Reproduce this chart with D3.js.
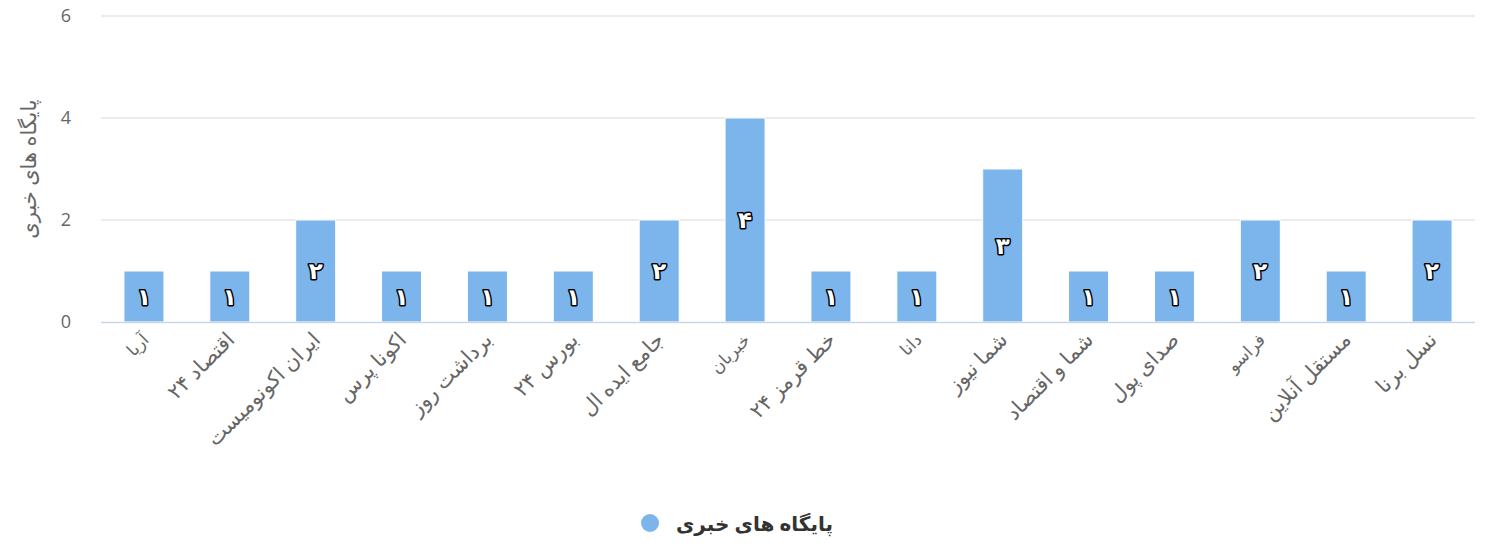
<!DOCTYPE html>
<html><head><meta charset="utf-8">
<script src="https://cdn.jsdelivr.net/npm/d3@7"></script>
<style>
body{margin:0;background:#fff;}
text{font-family:"Open Sans","DejaVu Sans",sans-serif;}
</style></head>
<body><svg id="c" width="1487" height="546"></svg>
<script>
const categories = ["آریا","اقتصاد ۲۴","ایران اکونومیست","اکونا پرس","برداشت روز","بورس ۲۴","جامع ایده ال","خبربان","خط قرمز ۲۴","دانا","شما نیوز","شما و اقتصاد","صدای پول","فراسو","مستقل آنلاین","نسل برنا"];
const values = [1,1,2,1,1,1,2,4,1,1,3,1,1,2,1,2];
const yTicks = [0,2,4,6];
const seriesName = "پایگاه های خبری";
const yTitle = "پایگاه های خبری";

const svg = d3.select("#c");
const m = {l:101, r:12, t:16, b:224};
const W = 1487, H = 546;
const x = d3.scaleBand().domain(categories).range([m.l, W-m.r]).padding(0);
const y = d3.scaleLinear().domain([0,6]).range([H-m.b, m.t]);
const color = "#7cb5ec";
const fa = d => String(d).replace(/[0-9]/g, c => "۰۱۲۳۴۵۶۷۸۹"[+c]);

// grid
svg.append("g").selectAll("line").data(yTicks.filter(t=>t>0)).join("line")
  .attr("x1", m.l).attr("x2", W-m.r)
  .attr("y1", d=>y(d)).attr("y2", d=>y(d))
  .attr("stroke","#e6e6e6").attr("stroke-width",1.5);
// y labels
svg.append("g").selectAll("text").data(yTicks).join("text")
  .attr("x", 71).attr("y", d=>y(d)+6)
  .attr("text-anchor","end").attr("fill","#666").attr("font-size",18)
  .text(d=>d);
// y title
svg.append("text").attr("transform",`translate(36,${(y(0)+y(6))/2}) rotate(-90)`)
  .attr("text-anchor","middle").attr("fill","#666").attr("font-size",21)
  .text(yTitle);

// bars
const bw = 40;
svg.append("g").selectAll("rect").data(values).join("rect")
  .attr("x",(d,i)=>x(categories[i])+x.bandwidth()/2-bw/2)
  .attr("width",bw)
  .attr("y",d=>y(d)).attr("height",d=>y(0)-y(d))
  .attr("fill",color).attr("stroke","#fff").attr("stroke-width",1);

// axis line
svg.append("line").attr("x1",m.l).attr("x2",W-m.r).attr("y1",y(0)+0.5).attr("y2",y(0)+0.5)
  .attr("stroke","#ccd6eb").attr("stroke-width",1.5);

// data labels
svg.append("g").selectAll("text").data(values).join("text")
  .attr("x",(d,i)=>x(categories[i])+x.bandwidth()/2)
  .attr("y",d=>(y(d)+y(0))/2+8)
  .attr("text-anchor","middle").attr("font-size",23).attr("font-weight","bold")
  .attr("fill","#fff").attr("stroke","#000").attr("stroke-width",3)
  .attr("paint-order","stroke").attr("stroke-linejoin","round")
  .text(d=>fa(d));

// x labels
svg.append("g").selectAll("text").data(categories).join("text")
  .attr("transform",d=>`translate(${x(d)+x.bandwidth()/2+6},341) rotate(-45)`)
  .attr("text-anchor","end").attr("fill","#666")
  .attr("font-size",d=>d.includes(" ")?21:17)
  .text(d=>d);

// legend
svg.append("circle").attr("cx",650).attr("cy",523).attr("r",9).attr("fill",color);
svg.append("text").attr("x",676).attr("y",531).attr("text-anchor","start")
  .attr("fill","#333").attr("font-size",20).attr("font-weight","bold").text(seriesName);
</script></body></html>
